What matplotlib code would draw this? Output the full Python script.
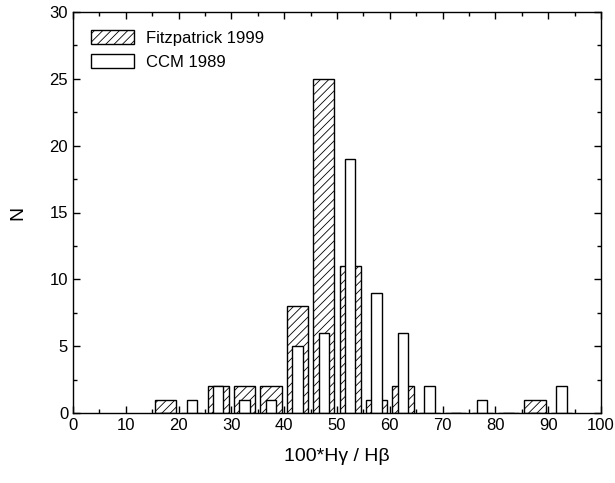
import matplotlib
matplotlib.use('Agg')
import matplotlib.pyplot as plt
from matplotlib.patches import Patch
from matplotlib.ticker import MultipleLocator

plt.rcParams['font.family'] = ['Liberation Sans', 'DejaVu Sans']
plt.rcParams['hatch.linewidth'] = 0.6

# bin centres (bins of 5 in 100*Hg/Hb)
centers = [17.5, 22.5, 27.5, 32.5, 37.5, 42.5, 47.5, 52.5, 57.5, 62.5,
           67.5, 72.5, 77.5, 82.5, 87.5, 92.5]
fitz_counts = [1, 0, 2, 2, 2, 8, 25, 11, 1, 2, 0, 0, 0, 0, 1, 0]
ccm_counts = [0, 1, 2, 1, 1, 5, 6, 19, 9, 6, 2, 0, 1, 0, 0, 2]

fig = plt.figure(figsize=(6.15, 4.83), dpi=100)
ax = fig.add_axes([73/615, 1 - 413/483, (601 - 73)/615, (413 - 12)/483])

ax.bar(centers, fitz_counts, width=4, facecolor='white', edgecolor='black',
       linewidth=1.0, hatch='////', zorder=2)
ax.bar(centers, ccm_counts, width=2, facecolor='white', edgecolor='black',
       linewidth=1.0, zorder=3)

ax.set_xlim(0, 100)
ax.set_ylim(0, 30)
ax.xaxis.set_major_locator(MultipleLocator(10))
ax.xaxis.set_minor_locator(MultipleLocator(5))
ax.yaxis.set_major_locator(MultipleLocator(5))
ax.yaxis.set_minor_locator(MultipleLocator(2.5))
ax.tick_params(which='both', direction='in', top=True, right=True,
               labelsize=12, width=1.0)
ax.tick_params(which='major', length=5)
ax.tick_params(which='minor', length=3)
for s in ax.spines.values():
    s.set_linewidth(1.0)
    s.set_zorder(5)

ax.set_xlabel('100*H\u03b3 / H\u03b2', fontsize=14, labelpad=11)
ax.set_ylabel('N', fontsize=14, labelpad=17)

handles = [Patch(facecolor='white', edgecolor='black', hatch='////', label='Fitzpatrick 1999'),
           Patch(facecolor='white', edgecolor='black', label='CCM 1989')]
ax.legend(handles=handles, loc='upper left', frameon=False, fontsize=12,
          handlelength=2.6, handleheight=0.95, borderaxespad=0.66,
          labelspacing=0.5, handletextpad=0.7)

fig.savefig('out.png', dpi=100)
